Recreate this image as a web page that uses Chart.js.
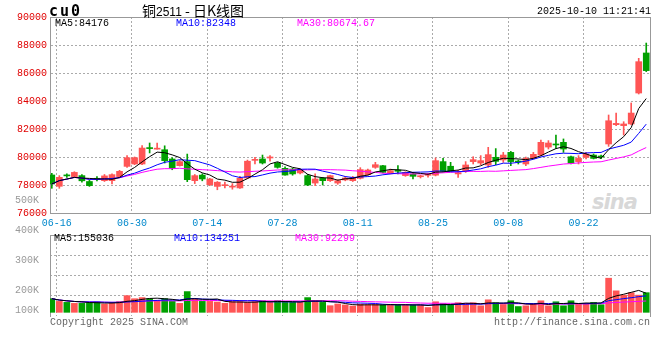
<!DOCTYPE html>
<html>
<head>
<meta charset="utf-8">
<script src="https://cdn.jsdelivr.net/npm/chart.js@4.4.1/dist/chart.umd.min.js"></script>
<style>
    body { margin: 0; width: 660px; height: 360px; background: #fff; position: relative; overflow: hidden; }
    canvas { position: absolute; left: 0; }
    .t { position: absolute; white-space: pre; font: 10px "Liberation Mono", monospace; line-height: 12px; }
</style>
</head>
<body>
<div class="t" style="left:592px;top:190px;font:italic bold 21px 'DejaVu Sans';color:#d8d8d8;letter-spacing:-1px">sina</div>
<canvas id="priceChart" width="660" height="232" style="top:0"></canvas>
<canvas id="volChart" width="660" height="150" style="top:190px"></canvas>

<div class="t" style="left:49px;top:3px;font:bold 15px 'DejaVu Sans Mono';line-height:16px;letter-spacing:2px">cu0</div>
<div class="t" style="left:142px;top:2px;font:14px 'Noto Sans CJK SC';line-height:16px">铜<span style="font:12px 'Liberation Sans Narrow','Liberation Sans'">2511</span> - 日K线图</div>
<div class="t" style="right:9px;top:6px">2025-10-10 11:21:41</div>

<div class="t" style="left:55px;top:18px;color:#000">MA5:84176</div>
<div class="t" style="left:176px;top:18px;color:#0000ff">MA10:82348</div>
<div class="t" style="left:297px;top:18px;color:#ff00ff">MA30:80674.67</div>

<div class="t" style="left:54px;top:233px;color:#000">MA5:155036</div>
<div class="t" style="left:174px;top:233px;color:#0000ff">MA10:134251</div>
<div class="t" style="left:295px;top:233px;color:#ff00ff">MA30:92299</div>

<div class="t" style="left:50px;top:317px;color:#666">Copyright 2025 SINA.COM</div>
<div class="t" style="right:10px;top:317px;color:#666">http://finance.sina.com.cn</div>

<script>
/* Daily K data for cu0, 2025-06-13 .. 2025-10-10 */
const dates = [
    "06-13", "06-16", "06-17", "06-18", "06-19", "06-20", "06-23", "06-24", "06-25", "06-26",
    "06-27", "06-30", "07-01", "07-02", "07-03", "07-04", "07-07", "07-08", "07-09", "07-10",
    "07-11", "07-14", "07-15", "07-16", "07-17", "07-18", "07-21", "07-22", "07-23", "07-24",
    "07-25", "07-28", "07-29", "07-30", "07-31", "08-01", "08-04", "08-05", "08-06", "08-07",
    "08-08", "08-11", "08-12", "08-13", "08-14", "08-15", "08-18", "08-19", "08-20", "08-21",
    "08-22", "08-25", "08-26", "08-27", "08-28", "08-29", "09-01", "09-02", "09-03", "09-04",
    "09-05", "09-08", "09-09", "09-10", "09-11", "09-12", "09-15", "09-16", "09-17", "09-18",
    "09-19", "09-22", "09-23", "09-24", "09-25", "09-26", "09-29", "09-30", "10-09", "10-10",
];

const openP = [
    78716, 77907, 78700, 78600, 78670, 78250, 78480, 78310, 78310, 78600,
    79330, 79500, 79500, 80650, 80560, 80520, 79860, 79380, 79670, 78310,
    78710, 78020, 77900, 77950, 77850, 77790, 78500, 79760, 79860, 79930,
    79570, 79190, 79140, 78860, 78670, 78140, 78480, 78310, 78140, 78360,
    78310, 78480, 78740, 79260, 79380, 78830, 79070, 78670, 78790, 78590,
    78690, 78700, 79670, 79340, 78790, 79030, 79670, 79570, 79430, 79980,
    79790, 80330, 79690, 79500, 79900, 80140, 80710, 80900, 81050, 80020,
    79670, 79980, 80140, 80050, 80930, 82310, 82240, 82360, 84570, 87430,
];
const highP = [
    78835, 78670, 78800, 78950, 78750, 78350, 78600, 78750, 78800, 79050,
    80100, 80000, 80810, 81000, 81000, 80800, 79950, 79750, 80210, 78750,
    78800, 78480, 78250, 78200, 78100, 78620, 79780, 79980, 80140, 80100,
    79620, 79300, 79190, 79140, 78760, 78790, 78550, 78700, 78380, 78600,
    78620, 79240, 79140, 79620, 79400, 79140, 79380, 78950, 78850, 78700,
    78830, 79930, 79900, 79620, 79050, 79670, 80020, 80100, 80690, 80600,
    80330, 80400, 79790, 80000, 80330, 81210, 81170, 81570, 81290, 80070,
    80100, 80330, 80220, 80140, 83000, 83140, 82520, 83860, 87050, 88140,
];
const lowP = [
    77764, 77764, 78550, 78550, 78200, 77900, 78300, 78250, 78070, 78550,
    79250, 79450, 79450, 80290, 80560, 79570, 79090, 79350, 78240, 78100,
    78300, 77950, 77660, 77800, 77700, 77750, 78450, 79500, 79500, 79700,
    79200, 78700, 78700, 78800, 77950, 77950, 78000, 78250, 78050, 78300,
    78250, 78430, 78700, 79190, 78860, 78800, 78790, 78620, 78430, 78500,
    78560, 78650, 78990, 78990, 78550, 78900, 79500, 79450, 79260, 79450,
    79620, 79380, 79500, 79380, 79860, 80100, 80570, 80620, 80330, 79500,
    79500, 79860, 79860, 79880, 80760, 82240, 81570, 82300, 84500, 86100,
];
const closeP = [
    78073, 78550, 78650, 78900, 78300, 77950, 78380, 78650, 78740, 78976,
    79950, 79950, 80640, 80600, 80600, 79740, 79190, 79670, 78380, 78670,
    78430, 78430, 78200, 78000, 77900, 78480, 79700, 79800, 79570, 79970,
    79260, 78710, 78790, 79070, 78000, 78430, 78310, 78670, 78310, 78500,
    78550, 79100, 79070, 79450, 78900, 79020, 78980, 78900, 78620, 78620,
    78710, 79740, 79000, 79000, 78880, 79430, 79810, 79740, 80170, 79690,
    80140, 79670, 79640, 79900, 80190, 81050, 81000, 80860, 80570, 79570,
    79900, 80210, 79900, 80000, 82590, 82400, 82360, 83140, 86810, 86170,
];
const volume = [
    111000, 89000, 81000, 73000, 73000, 81000, 84000, 68000, 73000, 87000,
    136000, 111000, 120000, 111000, 98000, 111000, 89000, 73000, 169000, 111000,
    89000, 89000, 84000, 73000, 87000, 87000, 81000, 87000, 95000, 81000,
    95000, 81000, 81000, 81000, 120000, 95000, 81000, 54000, 68000, 60000,
    51000, 66000, 62000, 64000, 60000, 62000, 60000, 62000, 58000, 60000,
    39000, 86000, 72000, 64000, 78000, 72000, 78000, 53000, 102000, 78000,
    64000, 94000, 47000, 53000, 72000, 94000, 53000, 86000, 53000, 94000,
    73000, 73000, 81000, 62000, 278000, 175000, 140000, 160000, 140000, 160000,
];

const tickLabels = ["06-16", "06-30", "07-14", "07-28", "08-11", "08-25", "09-08", "09-22"];
const priceTicks = [76000, 78000, 80000, 82000, 84000, 86000, 88000, 90000];
const volTickLabels = ["500K", "400K", "300K", "200K", "100K"];
const volTickValues = [500000, 400000, 300000, 200000, 100000];

const RED = "#ff5555";
const GREEN = "#00a000";
const GRID = "#aaaaaa";
const FRAME = "#999999";
const FONT = { family: "Liberation Mono", size: 10 };

/* date gridlines sit a little left of the candle centre */
const GRID_SHIFT = -0.35;
const X_MIN = -0.24;
const X_MAX = 79.5;

function movingAvg(arr, n) {
    return arr.map((_, i) => {
        const win = arr.slice(Math.max(0, i - n + 1), i + 1);
        return win.reduce((a, b) => a + b, 0) / win.length;
    });
}

const pts = arr => arr.map((v, i) => ({ x: i, y: v }));
const candleColor = closeP.map((c, i) => (c >= openP[i] ? RED : GREEN));
const dateTicks = tickLabels.map(d => ({ value: dates.indexOf(d) + GRID_SHIFT }));

function maLine(data, color, axis) {
    return {
        type: "line", data: pts(data), yAxisID: axis,
        borderColor: color, borderWidth: 1, pointRadius: 0, tension: 0, order: 0,
    };
}

function frameAxis(position) {
    /* invisible axis that only draws a panel edge */
    return {
        type: "linear", position: position, min: 0, max: 1, offset: false,
        grid: { display: false }, ticks: { display: false },
        border: { color: FRAME },
        afterFit: s => { if (s.isHorizontal()) s.height = 0; else s.width = 0; },
    };
}

Chart.defaults.font.family = FONT.family;

/* price panel */
new Chart(document.getElementById("priceChart"), {
    type: "bar",
    data: {
        datasets: [
            {
                data: dates.map((_, i) => ({ x: i, y: [lowP[i], highP[i]] })),
                backgroundColor: candleColor, barThickness: 1, grouped: false, order: 2,
            },
            {
                data: dates.map((_, i) => ({ x: i, y: [openP[i], closeP[i]] })),
                backgroundColor: candleColor, barThickness: 6, minBarLength: 1, grouped: false, order: 1,
            },
            maLine(movingAvg(closeP, 5), "#000000", "y"),
            maLine(movingAvg(closeP, 10), "#0000ff", "y"),
            maLine(movingAvg(closeP, 30), "#ff00ff", "y"),
        ],
    },
    options: {
        responsive: false,
        animation: false,
        layout: { padding: { left: 0, right: 10, top: 17, bottom: 0 } },
        plugins: { legend: { display: false }, tooltip: { enabled: false } },
        scales: {
            x: {
                type: "linear", min: X_MIN, max: X_MAX, offset: false,
                afterBuildTicks: s => { s.ticks = dateTicks.map(t => ({ ...t })); },
                ticks: {
                    callback: v => dates[Math.round(v - GRID_SHIFT)],
                    color: "#0088cc", font: FONT, padding: 4, autoSkip: false, maxRotation: 0,
                },
                grid: { color: GRID, drawTicks: false, offset: false },
                border: { color: FRAME, dash: [2, 2] },
                afterFit: s => { s.height = 19; },
            },
            y: {
                min: 76000, max: 90000,
                afterBuildTicks: s => { s.ticks = priceTicks.map(v => ({ value: v })); },
                ticks: { callback: v => String(v), color: "#e00000", font: FONT, padding: 3 },
                grid: { color: GRID, drawTicks: false },
                border: { color: FRAME, dash: [2, 2] },
                afterFit: s => { s.width = 50; },
            },
            xTop: frameAxis("top"),
            yRight: frameAxis("right"),
        },
    },
});

/* volume panel */
new Chart(document.getElementById("volChart"), {
    type: "bar",
    data: {
        datasets: [
            {
                data: pts(volume), yAxisID: "yVol",
                backgroundColor: candleColor, barThickness: 6, grouped: false, order: 1,
            },
            maLine(movingAvg(volume, 5), "#000000", "yVol"),
            maLine(movingAvg(volume, 10), "#0000ff", "yVol"),
            maLine(movingAvg(volume, 30), "#ff00ff", "yVol"),
        ],
    },
    options: {
        responsive: false,
        animation: false,
        layout: { padding: { left: 0, right: 10, top: 45, bottom: 24 } },
        plugins: { legend: { display: false }, tooltip: { enabled: false } },
        scales: {
            x: {
                type: "linear", min: X_MIN, max: X_MAX, offset: false,
                afterBuildTicks: s => { s.ticks = dateTicks.map(t => ({ ...t })); },
                ticks: { display: false },
                grid: { color: GRID, drawTicks: false, offset: false },
                border: { display: false, dash: [2, 2] },
                afterFit: s => { s.height = 0; },
            },
            yLbl: {
                type: "linear", position: "left", min: 113000, max: 383000,
                afterBuildTicks: s => {
                    const floor = s.min + (s.max - s.min) * 0.07;
                    s.ticks = volTickValues.map(v => ({ value: Math.max(v, floor) }));
                },
                ticks: { callback: (v, i) => volTickLabels[i], color: "#999999", font: FONT, padding: 3 },
                grid: { display: false },
                border: { color: FRAME },
                afterFit: s => { s.width = 50; },
            },
            yVol: {
                type: "linear", position: "right", min: -30000, max: 630000,
                afterBuildTicks: s => {
                    const step = (s.max - s.min) / 4;
                    s.ticks = [0, 1, 2, 3, 4].map(k => ({ value: s.min + k * step }));
                },
                ticks: { display: false },
                grid: { color: c => (c.index === 0 ? "rgba(0,0,0,0)" : GRID), drawTicks: false },
                border: { color: FRAME, dash: [2, 2] },
                afterFit: s => { s.width = 0; },
            },
            xTop: frameAxis("top"),
        },
    },
});
</script>
</body>
</html>
